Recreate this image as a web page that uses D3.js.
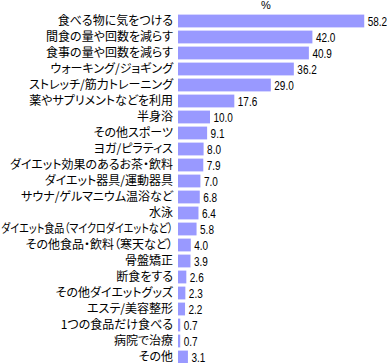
<!DOCTYPE html>
<html>
<head>
<meta charset="utf-8">
<script src="https://cdn.jsdelivr.net/npm/d3@7"></script>
<style>
  body { margin: 0; background: #fff; }
  svg { display: block; }
</style>
</head>
<body>
<div id="chart"></div>
<script>
// Diet methods tried (%)
const categories = [
  "食べる物に気をつける", "間食の量や回数を減らす", "食事の量や回数を減らす",
  "ウォーキング/ジョギング", "ストレッチ/筋力トレーニング", "薬やサプリメントなどを利用",
  "半身浴", "その他スポーツ", "ヨガ/ピラティス", "ダイエット効果のあるお茶・飲料",
  "ダイエット器具/運動器具", "サウナ/ゲルマニウム温浴など", "水泳",
  "ダイエット食品（マイクロダイエットなど）", "その他食品・飲料（寒天など）", "骨盤矯正",
  "断食をする", "その他ダイエットグッズ", "エステ/美容整形", "1つの食品だけ食べる",
  "病院で治療", "その他"
];
const values = [58.2, 42.0, 40.9, 36.2, 29.0, 17.6, 10.0, 9.1, 8.0, 7.9, 7.0, 6.8,
  6.4, 5.8, 4.0, 3.9, 2.6, 2.3, 2.2, 0.7, 0.7, 3.1];
const unitLabel = "%";

const data = categories.map((c, i) => ({ name: c, value: values[i] }));

const width = 387, height = 363;
const margin = { top: 13, left: 178 };

const svg = d3.select("#chart")
  .append("svg")
  .attr("width", width)
  .attr("height", height);

const x = d3.scaleLinear()
  .domain([0, 60])
  .range([margin.left, margin.left + 192]);

const y = d3.scaleBand()
  .domain(categories)
  .range([margin.top, margin.top + categories.length * 16])
  .paddingInner(0.2)
  .paddingOuter(0.1);

const midY = d => y(d.name) + y.bandwidth() / 2;

// Bars
svg.selectAll("rect.bar")
  .data(data)
  .enter()
  .append("rect")
  .attr("class", "bar")
  .attr("x", x(0))
  .attr("y", d => y(d.name))
  .attr("width", d => x(d.value) - x(0))
  .attr("height", y.bandwidth())
  .attr("fill", "#9999ff");

// Category labels (proportional kana; squeeze the ones that don't fit)
const labelRight = x(0) - 5;
svg.selectAll("text.cat")
  .data(data)
  .enter()
  .append("text")
  .attr("class", "cat")
  .attr("dy", "0.36em")
  .attr("text-anchor", "end")
  .style("font-family", "'Noto Sans CJK JP', sans-serif")
  .style("font-size", "12px")
  .style("font-feature-settings", "'palt'")
  .text(d => d.name)
  .each(function(d) {
    const w = this.getComputedTextLength();
    const k = Math.min(1, (labelRight - 1) / w);
    d3.select(this).attr("transform", `translate(${labelRight},${midY(d)}) scale(${k},1)`);
  });

// Value labels (narrowed to look like the original bitmap digits)
svg.selectAll("text.val")
  .data(data)
  .enter()
  .append("text")
  .attr("class", "val")
  .attr("transform", d => `translate(${x(d.value) + 3.5},${midY(d)}) scale(0.8,1)`)
  .attr("dy", "0.36em")
  .style("font-family", "'Liberation Sans', Arial, sans-serif")
  .style("font-size", "12.5px")
  .text(d => d.value.toFixed(1));

// Unit label
svg.append("text")
  .attr("x", 266)
  .attr("y", 9)
  .attr("text-anchor", "middle")
  .style("font-family", "'Liberation Sans', Arial, sans-serif")
  .style("font-size", "11px")
  .text(unitLabel);
</script>
</body>
</html>
